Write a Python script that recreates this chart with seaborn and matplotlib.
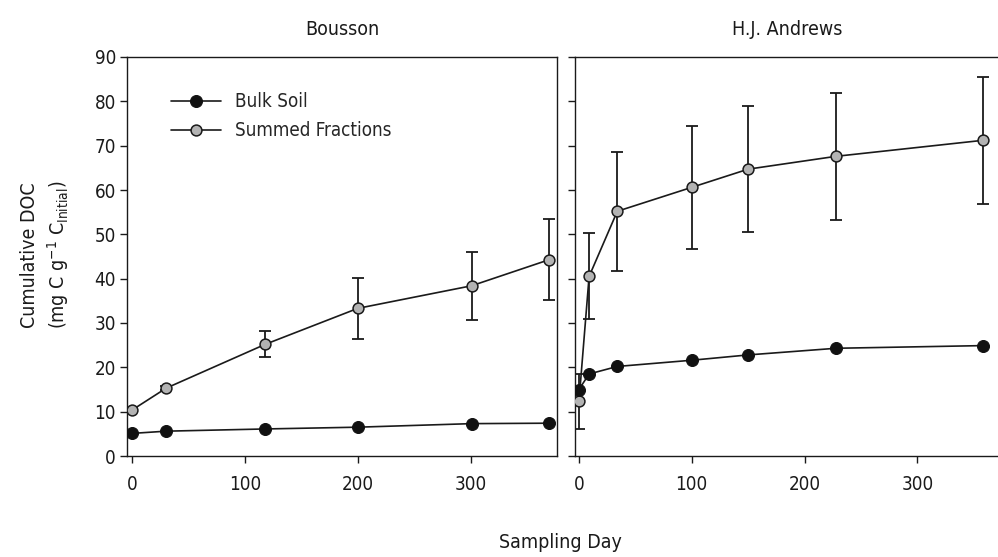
import matplotlib
matplotlib.use("Agg")
import matplotlib.pyplot as plt
import seaborn as sns
import pandas as pd

# Bousson site
bousson_day = [0, 30, 118, 200, 301, 370]
bousson_bulk = [5.1, 5.6, 6.1, 6.5, 7.3, 7.4]
bousson_sum = [10.4, 15.3, 25.2, 33.3, 38.4, 44.3]
bousson_sum_err = [0.4, 0.4, 2.95, 6.9, 7.7, 9.1]

# H.J. Andrews site
andrews_day = [0, 9, 34, 100, 150, 228, 358]
andrews_bulk = [15.0, 18.5, 20.2, 21.6, 22.8, 24.3, 24.9]
andrews_sum = [12.3, 40.5, 55.2, 60.6, 64.7, 67.6, 71.2]
andrews_sum_err = [6.2, 9.7, 13.4, 13.8, 14.2, 14.3, 14.4]

site_names = ["Bousson", "H.J. Andrews"]
series_names = ["Bulk Soil", "Summed Fractions"]
x_ticks = [0, 100, 200, 300]
y_ticks = [0, 10, 20, 30, 40, 50, 60, 70, 80, 90]

sns.set_theme(style="ticks")
plt.rcParams["font.family"] = ["DejaVu Sans"]
plt.rcParams["font.stretch"] = "condensed"

fig = plt.figure(figsize=(9.98, 5.57), dpi=100)
fig.patch.set_facecolor("white")
ax_l = fig.add_axes([127 / 998, 101 / 557, 430 / 998, 399 / 557])
ax_r = fig.add_axes([575 / 998, 101 / 557, 425 / 998, 399 / 557])

panels = [
    (ax_l, bousson_day, bousson_bulk, bousson_sum, bousson_sum_err, (-4.7, 376.7)),
    (ax_r, andrews_day, andrews_bulk, andrews_sum, andrews_sum_err, (-3.5, 373.3)),
]

ink = "#1a1a1a"
for i, (ax, day, bulk, summ, err, xlim) in enumerate(panels):
    df_bulk = pd.DataFrame({"day": day, "doc": bulk})
    df_sum = pd.DataFrame({"day": day, "doc": summ})
    ax.set_facecolor("white")

    ax.errorbar(day, summ, yerr=err, fmt="none", ecolor=ink,
                elinewidth=1.3, capsize=4.2, capthick=1.3, zorder=2)
    sns.lineplot(data=df_sum, x="day", y="doc", ax=ax, color=ink,
                 linewidth=1.2, marker="o", markersize=7.8,
                 markerfacecolor="#b3b3b3", markeredgecolor=ink,
                 markeredgewidth=1.1, label=series_names[1], zorder=3,
                 legend=False)
    sns.lineplot(data=df_bulk, x="day", y="doc", ax=ax, color=ink,
                 linewidth=1.2, marker="o", markersize=8.6,
                 markerfacecolor="#111111", markeredgecolor="#111111",
                 label=series_names[0], zorder=4, legend=False)

    ax.set_xlim(*xlim)
    ax.set_ylim(0, 90)
    ax.set_xticks(x_ticks)
    ax.set_yticks(y_ticks)
    ax.set_xlabel("")
    ax.set_ylabel("")
    ax.set_title(site_names[i], fontsize=14, pad=16, color=ink)
    ax.tick_params(axis="both", direction="out", length=5, width=1.0,
                   color=ink, labelsize=13.5, labelcolor=ink)
    ax.tick_params(axis="x", pad=9)
    ax.tick_params(axis="y", pad=3)
    for s in ax.spines.values():
        s.set_color(ink)
        s.set_linewidth(1.0)
        s.set_visible(True)
    ax.grid(False)

ax_r.tick_params(axis="y", labelleft=False)
ax_r.spines["right"].set_visible(False)

handles, labels = ax_l.get_legend_handles_labels()
order = [labels.index(n) for n in series_names]
ax_l.legend([handles[k] for k in order], [labels[k] for k in order],
            loc="upper left", bbox_to_anchor=(0.102, 0.912),
            frameon=False, fontsize=13.5, handlelength=2.7,
            handletextpad=0.7, labelspacing=0.55, borderpad=0,
            borderaxespad=0)

fig.text(30 / 998, 1 - 255 / 557, "Cumulative DOC", rotation=90,
         ha="center", va="center", fontsize=14, color=ink)
fig.text(58 / 998, 1 - 255 / 557, r"(mg C g$^{-1}$ C$_{\mathregular{Initial}}$)",
         rotation=90, ha="center", va="center", fontsize=14, color=ink)
fig.text(560 / 998, 1 - 543 / 557, "Sampling Day", ha="center", va="center",
         fontsize=14, color=ink)

fig.savefig("out.png", dpi=100, facecolor="white")
